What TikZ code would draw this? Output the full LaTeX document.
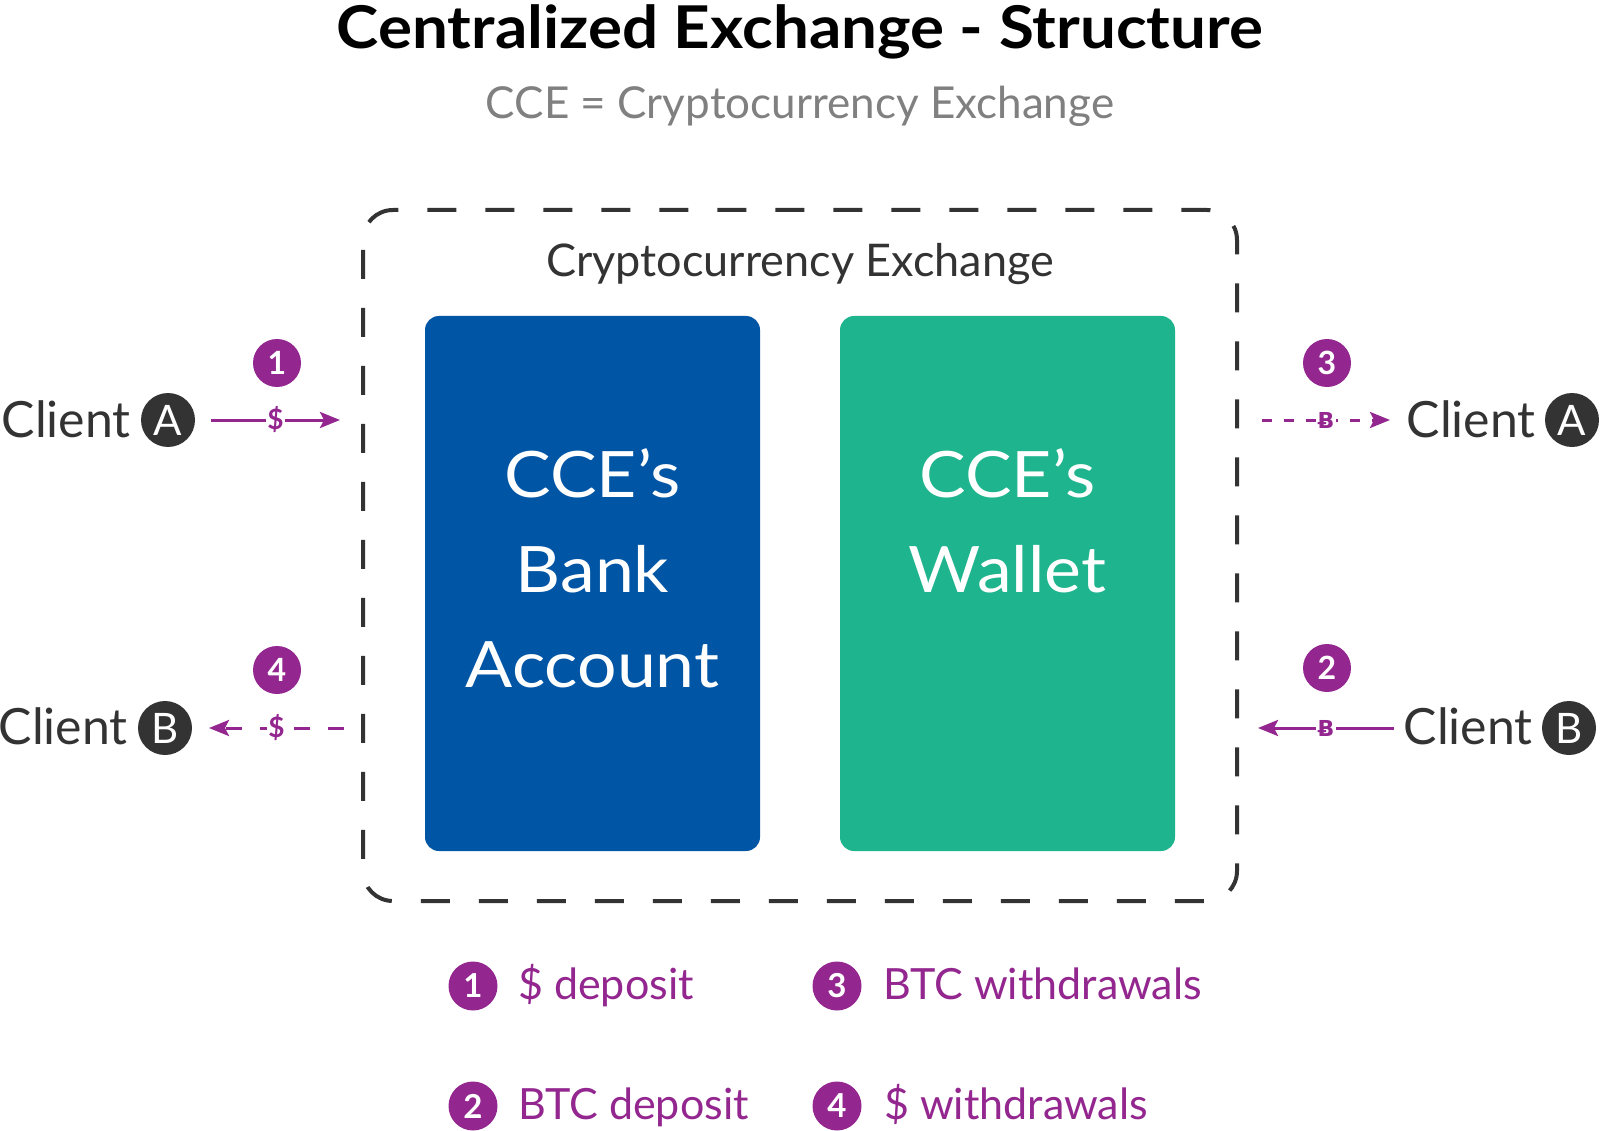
\documentclass[tikz,border=0pt]{standalone}
\usepackage{fontspec}
\setmainfont{Lato}
\newfontfamily\symfont{DejaVu Sans}
\usetikzlibrary{arrows.meta}
\definecolor{purp}{HTML}{93278F}
\definecolor{bankblue}{HTML}{0055A5}
\definecolor{walletgreen}{HTML}{1EB48D}
\definecolor{darkg}{HTML}{333333}
\definecolor{subgray}{HTML}{808080}
\tikzset{
  ttl/.style={inner sep=0, anchor=base, xscale=1.08, transform shape, font=\fontsize{59}{60}\selectfont\bfseries, text=black},
  subt/.style={inner sep=0, anchor=base, font=\fontsize{44}{46}\selectfont, text=subgray},
  exlabel/.style={inner sep=0, anchor=base, font=\fontsize{45}{46}\selectfont, text=darkg},
  frame/.style={draw=darkg, line width=4, dash pattern=on 29 off 29},
  acct/.style={draw=none, fill=#1, rounded corners=14, minimum width=335, minimum height=535, inner sep=0},
  boxtxt/.style={inner sep=0, anchor=base, xscale=1.09, transform shape, font=\fontsize{64}{66}\selectfont, text=white},
  clienttxt/.style={inner sep=0, anchor=base east, font=\fontsize{50}{52}\selectfont, text=darkg},
  letterc/.style={circle, fill=darkg, minimum size=54, inner sep=0, text=white, font=\fontsize{42}{44}\selectfont},
  numc/.style={circle, fill=purp, minimum size=48, inner sep=0, text=white, font=\fontsize{32}{34}\selectfont\bfseries},
  legc/.style={circle, fill=purp, minimum size=49, inner sep=0, text=white, font=\fontsize{33}{35}\selectfont\bfseries},
  legtxt/.style={inner sep=0, anchor=base west, font=\fontsize{43}{46}\selectfont, text=purp},
  flow/.style={draw=purp, line width=3, -{Stealth[length=20,width=16,inset=4]}},
  dflowa/.style={flow, dash pattern=on 16 off 18},
  dflowb/.style={flow, dash pattern=on 10 off 12},
  cur/.style={fill=white, inner sep=1.5, text=purp, font=\fontsize{28}{28}\selectfont\bfseries},
  btc/.style={fill=white, inner sep=1.5, text=purp, font=\fontsize{22}{24}\selectfont\symfont\bfseries},
}
\begin{document}
\begin{tikzpicture}[x=1pt,y=-1pt]
\useasboundingbox[fill=white] (0,0) rectangle (1600,1131);

% titles
\node[ttl] (title) at (800,49) {Centralized Exchange - Structure};
\node[subt] (sub) at (800,119) {CCE = Cryptocurrency Exchange};

% exchange frame
\draw[frame, dash phase=23.6, rounded corners=30]
  (393,210) -- (1237,210) -- (1237,901) -- (363,901) -- (363,210) -- (393,210);
\node[exlabel] (exl) at (800,277) {Cryptocurrency Exchange};

% accounts
\node[acct=bankblue] (bank) at (592.5,583.5) {};
\node[acct=walletgreen] (wallet) at (1007.5,583.5) {};
\node[boxtxt] (b1) at (592.5,497) {CCE’s};
\node[boxtxt] (b2) at (592.5,592) {Bank};
\node[boxtxt] (b3) at (592.5,687) {Account};
\node[boxtxt] (w1) at (1007.5,497) {CCE’s};
\node[boxtxt] (w2) at (1007.5,592) {Wallet};

% clients left
\node[clienttxt] (cal) at (131,437) {Client};
\node[letterc] (cAl) at (168,420) {A};
\node[clienttxt] (cbl) at (128,744) {Client};
\node[letterc] (cBl) at (165,728) {B};
% clients right
\node[clienttxt] (car) at (1536,437) {Client};
\node[letterc] (cAr) at (1572,420) {A};
\node[clienttxt] (cbr) at (1533,744) {Client};
\node[letterc] (cBr) at (1569,728) {B};

% step numbers
\node[numc] (n1) at (277,363) {1};
\node[numc] (n4) at (277,670) {4};
\node[numc] (n3) at (1327,363) {3};
\node[numc] (n2) at (1327,668) {2};

% flows
\coordinate (f1s) at (211,420);
\coordinate (f1e) at (340,420);
\coordinate (f4s) at (344,728);
\coordinate (f4e) at (209,728);
\coordinate (f3s) at (1262,420);
\coordinate (f3e) at (1390,420);
\coordinate (f2s) at (1394,728);
\coordinate (f2e) at (1258,728);
\draw[flow] (f1s) -- node[cur] (d1) {\$} (f1e);
\draw[dflowa] (f4s) -- node[cur] (d4) {\$} (f4e);
\draw[dflowb] (f3s) -- node[btc] (d3) {Ƀ} (f3e);
\draw[flow] (f2s) -- node[btc] (d2) {Ƀ} (f2e);

% legend
\node[legc] (l1) at (473,986) {1};
\node[legtxt] (t1) at (518,999) {\$ deposit};
\node[legc] (l3) at (837,986) {3};
\node[legtxt] (t3) at (883,999) {BTC withdrawals};
\node[legc] (l2) at (473,1106) {2};
\node[legtxt] (t2) at (518,1119) {BTC deposit};
\node[legc] (l4) at (837,1106) {4};
\node[legtxt] (t4) at (884,1119) {\$ withdrawals};
\end{tikzpicture}
\end{document}
